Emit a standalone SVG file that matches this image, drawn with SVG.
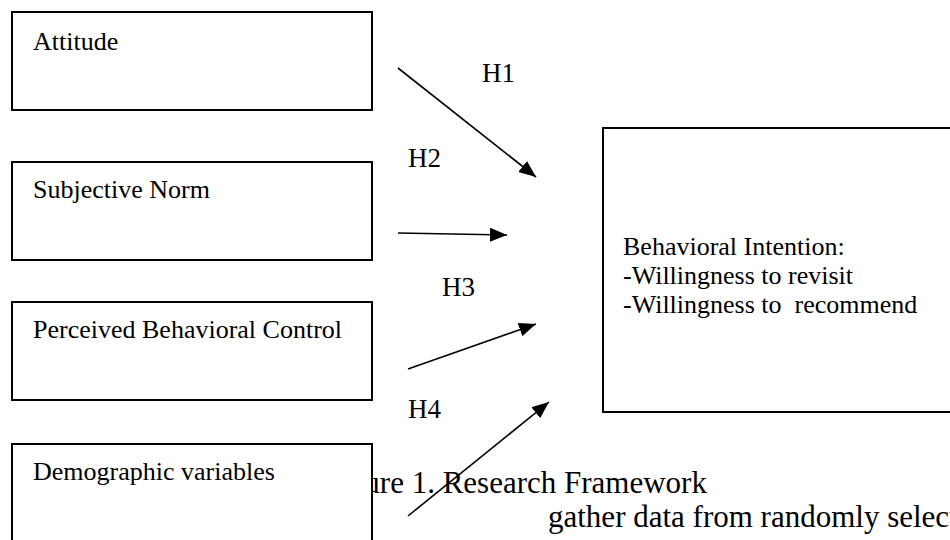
<svg xmlns="http://www.w3.org/2000/svg" width="950" height="540" viewBox="0 0 950 540">
  <style>
    .box { fill: #ffffff; stroke: #000000; stroke-width: 2; }
    .lbl { font-family: "Liberation Serif", "Times New Roman", serif; font-size: 26px; fill: #000000; }
    .hyp { font-family: "Liberation Serif", "Times New Roman", serif; font-size: 27px; fill: #000000; }
    .body { font-family: "Liberation Serif", "Times New Roman", serif; font-size: 31px; fill: #000000; }
    .edge { stroke: #000000; stroke-width: 1.6; fill: none; marker-end: url(#head); }
  </style>
  <defs>
    <marker id="head" markerUnits="userSpaceOnUse" markerWidth="18" markerHeight="14" refX="17" refY="7" orient="auto">
      <path d="M0,0 L17,7 L0,14 Z" fill="#000000"/>
    </marker>
  </defs>

  <rect width="950" height="540" fill="#ffffff"/>

  <!-- caption and running text of the page (partly hidden behind the last box) -->
  <g id="page-text">
    <text class="body" x="323" y="493">Figure 1. Research Framework</text>
    <text class="body" x="548" y="527">gather data from randomly selected</text>
  </g>

  <g id="attitude">
    <rect class="box" x="12" y="12" width="360" height="98"/>
    <text class="lbl" x="33" y="50">Attitude</text>
  </g>

  <g id="subjective-norm">
    <rect class="box" x="12" y="162" width="360" height="98"/>
    <text class="lbl" x="33" y="198">Subjective Norm</text>
  </g>

  <g id="perceived-control">
    <rect class="box" x="12" y="302" width="360" height="98"/>
    <text class="lbl" x="33" y="338">Perceived Behavioral Control</text>
  </g>

  <g id="demographics">
    <rect class="box" x="12" y="444" width="360" height="110"/>
    <text class="lbl" x="33" y="480">Demographic variables</text>
  </g>

  <g id="behavioral-intention">
    <rect class="box" x="603" y="128" width="360" height="284"/>
    <text class="lbl" x="623" y="255">Behavioral Intention:</text>
    <text class="lbl" x="623" y="284">-Willingness to revisit</text>
    <text class="lbl" x="623" y="313" xml:space="preserve">-Willingness to  recommend</text>
  </g>

  <g id="connectors">
    <line class="edge" x1="398" y1="68" x2="536" y2="177"/>
    <line class="edge" x1="398" y1="233" x2="507" y2="235"/>
    <line class="edge" x1="408" y1="369" x2="536" y2="324"/>
    <line class="edge" x1="408" y1="516" x2="549" y2="402"/>
    <text class="hyp" x="482" y="82">H1</text>
    <text class="hyp" x="408" y="167">H2</text>
    <text class="hyp" x="442" y="296">H3</text>
    <text class="hyp" x="408" y="418">H4</text>
  </g>
</svg>
